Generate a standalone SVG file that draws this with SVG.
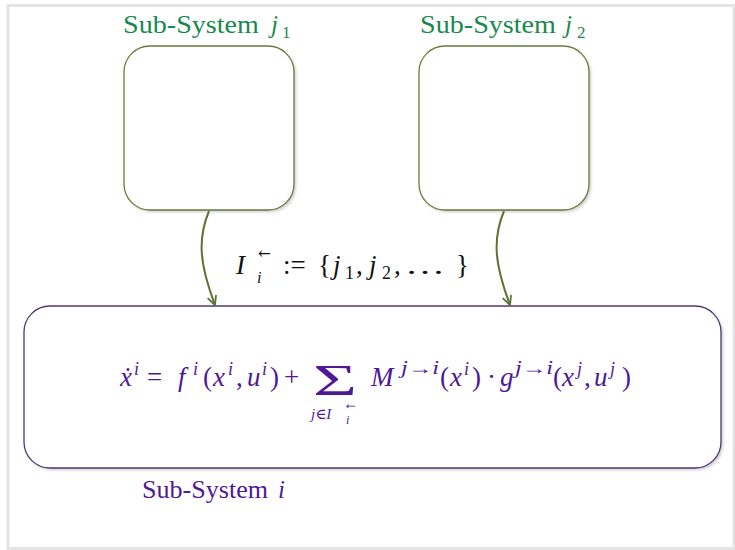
<svg xmlns="http://www.w3.org/2000/svg" width="735" height="550" viewBox="0 0 735 550">
<style>
.t{font-family:"Liberation Serif","DejaVu Serif",serif;}
.it{font-style:italic;}
.green{fill:#17894e;}
.pur{fill:#4e1896;}
.blk{fill:#111;}
.top{fill:#fff;stroke:#6b7a3c;stroke-width:1.3;}
.bot{fill:#fff;stroke:#4d3a70;stroke-width:1.3;}
.conn{fill:none;stroke:#5f7434;stroke-width:2;}
</style>
<defs>
<filter id="sh" x="-10%" y="-10%" width="130%" height="130%">
<feGaussianBlur stdDeviation="1.5"/>
</filter>
<marker id="ah" viewBox="0 0 12 12" refX="10" refY="6" markerWidth="12" markerHeight="12" markerUnits="userSpaceOnUse" orient="auto">
<path d="M1,1.5 L10,6 L1,10.5" fill="none" stroke="#5f7434" stroke-width="1.8"/>
</marker>
</defs>
<rect x="0" y="0" width="735" height="550" fill="#fff"/>
<rect x="8" y="5.5" width="726" height="543" fill="none" stroke="#e4e4e4" stroke-width="3"/>

<g id="node-j1">
<rect x="126" y="48" width="170" height="164" rx="26" fill="#999" opacity="0.5" filter="url(#sh)"/>
<rect class="top" x="124" y="46" width="170" height="164" rx="26"/>
<text class="t green" y="33" font-size="25"><tspan x="123" textLength="136" lengthAdjust="spacingAndGlyphs">Sub-System</tspan><tspan class="it" x="271">j</tspan><tspan x="282" y="38" font-size="17">1</tspan></text>
</g>

<g id="node-j2">
<rect x="421" y="48" width="170" height="164" rx="26" fill="#999" opacity="0.5" filter="url(#sh)"/>
<rect class="top" x="419" y="46" width="170" height="164" rx="26"/>
<text class="t green" y="33" font-size="25"><tspan x="420" textLength="136" lengthAdjust="spacingAndGlyphs">Sub-System</tspan><tspan class="it" x="565">j</tspan><tspan x="577" y="38" font-size="17">2</tspan></text>
</g>

<g id="node-i">
<rect x="26" y="308" width="697" height="162" rx="26" fill="#999" opacity="0.5" filter="url(#sh)"/>
<rect class="bot" x="24" y="306" width="697" height="162" rx="26"/>
<text class="t pur" y="498" font-size="25"><tspan x="142" textLength="126" lengthAdjust="spacingAndGlyphs">Sub-System</tspan><tspan class="it" x="278">i</tspan></text>
<g class="t pur">
<text class="it" x="120" y="386" font-size="27">ẋ</text>
<text class="it" x="134" y="375" font-size="18">i</text>
<text x="147" y="386" font-size="27">=</text>
<text class="it" x="178" y="386" font-size="27">f</text>
<text class="it" x="193" y="375" font-size="18">i</text>
<text x="203" y="386" font-size="27">(</text>
<text class="it" x="213" y="386" font-size="27">x</text>
<text class="it" x="228" y="375" font-size="18">i</text>
<text x="236" y="386" font-size="27">,</text>
<text class="it" x="247" y="386" font-size="27">u</text>
<text class="it" x="262" y="375" font-size="18">i</text>
<text x="270" y="386" font-size="27">)</text>
<text x="284" y="386" font-size="27">+</text>
<text x="313" y="395" font-size="44" textLength="44" lengthAdjust="spacingAndGlyphs">Σ</text>
<text x="311" y="419" font-size="15"><tspan class="it">j</tspan>∈<tspan class="it">I</tspan></text>
<text x="343" y="409" font-size="18" textLength="15" lengthAdjust="spacingAndGlyphs">←</text>
<text class="it" x="346" y="424" font-size="12">i</text>
<text class="it" x="371" y="386" font-size="27">M</text>
<text class="it" x="401" y="374" font-size="18" textLength="38" lengthAdjust="spacingAndGlyphs">j→i</text>
<text x="440" y="386" font-size="27">(</text>
<text class="it" x="450" y="386" font-size="27">x</text>
<text class="it" x="464" y="375" font-size="18">i</text>
<text x="472" y="386" font-size="27">)</text>
<text x="487" y="386" font-size="27">·</text>
<text class="it" x="500" y="386" font-size="27">g</text>
<text class="it" x="515" y="374" font-size="18" textLength="38" lengthAdjust="spacingAndGlyphs">j→i</text>
<text x="553" y="386" font-size="27">(</text>
<text class="it" x="562" y="386" font-size="27">x</text>
<text class="it" x="577" y="375" font-size="18">j</text>
<text x="584" y="386" font-size="27">,</text>
<text class="it" x="594" y="386" font-size="27">u</text>
<text class="it" x="610" y="375" font-size="18">j</text>
<text x="622" y="386" font-size="27">)</text>
</g>
</g>

<g id="connectors">
<path class="conn" d="M209,211 C197,240 200,265 215,305" marker-end="url(#ah)"/>
<path class="conn" d="M504,211 C492,240 495,265 510,305" marker-end="url(#ah)"/>
<g class="t blk">
<text class="it" x="236" y="274" font-size="27">I</text>
<text x="255" y="258" font-size="26" textLength="19" lengthAdjust="spacingAndGlyphs">←</text>
<text class="it" x="257" y="283" font-size="16">i</text>
<text x="283" y="274" font-size="27">:=</text>
<text x="318" y="274" font-size="27">{</text>
<text class="it" x="333" y="274" font-size="27">j</text>
<text x="345" y="279" font-size="18">1</text>
<text x="356" y="274" font-size="27">,</text>
<text class="it" x="369" y="274" font-size="27">j</text>
<text x="382" y="279" font-size="18">2</text>
<text x="394" y="274" font-size="27">,</text>
<text x="405" y="274" font-size="27" textLength="40" lengthAdjust="spacingAndGlyphs">…</text>
<text x="456" y="274" font-size="27">}</text>
</g>
</g>
</svg>
